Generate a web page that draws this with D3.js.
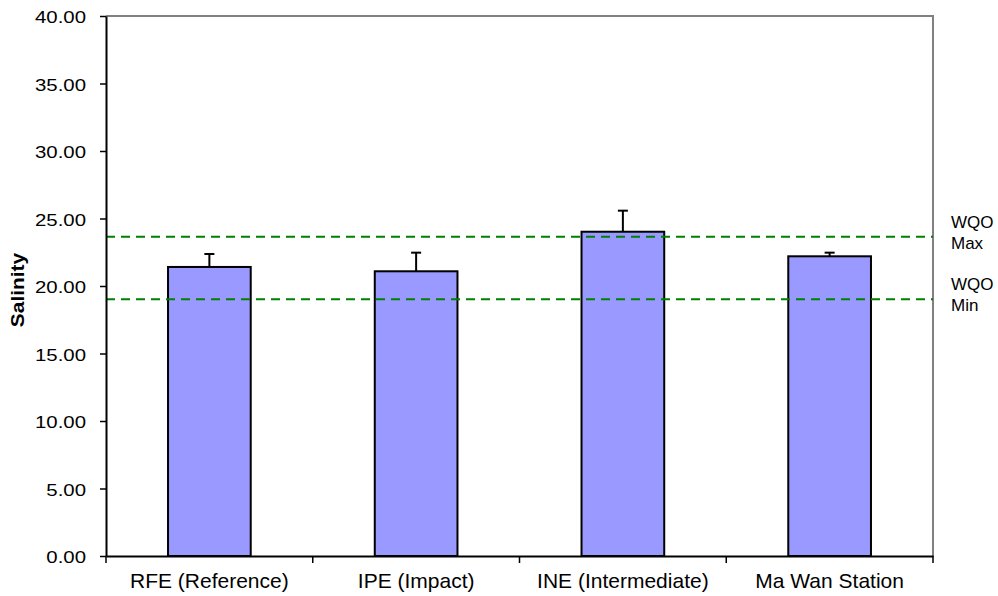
<!DOCTYPE html>
<html>
<head>
<meta charset="utf-8">
<script src="https://cdn.jsdelivr.net/npm/d3@7"></script>
<style>
  html, body { margin: 0; padding: 0; background: #fff; }
  svg { display: block; font-family: "Liberation Sans", Arial, sans-serif; }
</style>
</head>
<body>
<svg id="chart" width="998" height="596"></svg>
<script>
// ---- data ----
const categories = ["RFE (Reference)", "IPE (Impact)", "INE (Intermediate)", "Ma Wan Station"];
const salinity = [21.41, 21.09, 24.02, 22.20];
const errorUp = [0.96, 1.38, 1.56, 0.27];
const wqoMax = 23.65;
const wqoMin = 19.01;
const yTicks = [0, 5, 10, 15, 20, 25, 30, 35, 40];
const yLabel = "Salinity";

// ---- layout ----
const svg = d3.select("#chart");
const mLeft = 106, mRight = 933, mTop = 16, mBottom = 556;

const x = d3.scaleBand().domain(categories).range([mLeft, mRight]).paddingInner(0).paddingOuter(0);
const y = d3.scaleLinear().domain([0, 40]).range([mBottom, mTop]);
const barW = x.bandwidth() * 0.4;

// plot border (gray top/right)
svg.append("path")
  .attr("d", `M${mLeft},${mTop}H${mRight}V${mBottom}`)
  .attr("fill", "none").attr("stroke", "#808080").attr("stroke-width", 2);

// bars
svg.append("g").selectAll("rect").data(categories).join("rect")
  .attr("x", d => x(d) + (x.bandwidth() - barW) / 2)
  .attr("y", (d, i) => y(salinity[i]))
  .attr("width", barW)
  .attr("height", (d, i) => y(0) - y(salinity[i]))
  .attr("fill", "#9999FF")
  .attr("stroke", "#000").attr("stroke-width", 2);

// error bars (upper only)
const eg = svg.append("g").attr("stroke", "#000").attr("stroke-width", 2);
categories.forEach((c, i) => {
  const cx = x(c) + x.bandwidth() / 2;
  const yt = y(salinity[i] + errorUp[i]);
  eg.append("line").attr("x1", cx).attr("x2", cx).attr("y1", y(salinity[i])).attr("y2", yt);
  eg.append("line").attr("x1", cx - 5).attr("x2", cx + 5).attr("y1", yt).attr("y2", yt);
});

// WQO lines
[wqoMax, wqoMin].forEach(v => {
  svg.append("line")
    .attr("x1", mLeft).attr("x2", mRight)
    .attr("y1", y(v)).attr("y2", y(v))
    .attr("stroke", "#008000").attr("stroke-width", 2)
    .attr("stroke-dasharray", "9,6");
});

// WQO labels
const lab = [["WQO", "Max", wqoMax], ["WQO", "Min", wqoMin]];
lab.forEach(([a, b, v]) => {
  const t = svg.append("text").attr("x", 951).attr("y", y(v) - 9)
    .attr("font-size", 17).attr("fill", "#000");
  t.append("tspan").attr("x", 951).text(a);
  t.append("tspan").attr("x", 951).attr("dy", 20.8).text(b);
});

// y axis
const yAxis = svg.append("g").attr("transform", `translate(${mLeft},0)`)
  .call(d3.axisLeft(y).tickValues(yTicks).tickFormat(d3.format(".2f")).tickSize(6).tickSizeOuter(0));
yAxis.select(".domain").attr("stroke", "#000").attr("stroke-width", 2);
yAxis.selectAll(".tick line").attr("stroke", "#000").attr("stroke-width", 1.5);
yAxis.selectAll(".tick text").each(function() {
  const t = d3.select(this);
  t.attr("x", null).attr("dy", null)
   .attr("font-size", 17).attr("fill", "#000")
   .attr("text-anchor", "end")
   .attr("dominant-baseline", "central")
   .attr("transform", "translate(-20,1) scale(1.2,1)");
});

// x axis
const xAxis = svg.append("g").attr("transform", `translate(0,${mBottom})`)
  .call(d3.axisBottom(x).tickSize(0).tickSizeOuter(0));
xAxis.select(".domain").attr("stroke", "#000").attr("stroke-width", 2);
xAxis.selectAll(".tick text").attr("y", null).attr("dy", null)
  .attr("font-size", 20).attr("fill", "#000")
  .attr("transform", "translate(0,32) scale(1.05,1)");
// band boundary ticks
const bounds = categories.map(c => x(c)).concat([mRight]);
xAxis.selectAll(".bt").data(bounds).join("line").attr("class", "bt")
  .attr("x1", d => d).attr("x2", d => d).attr("y1", 0).attr("y2", 7)
  .attr("stroke", "#000").attr("stroke-width", 1.5);

// y label
svg.append("text")
  .attr("transform", "translate(24,290) rotate(-90) scale(1.1,1)")
  .attr("text-anchor", "middle")
  .attr("font-size", 19).attr("font-weight", "bold").attr("fill", "#000")
  .text(yLabel);
</script>
</body>
</html>
